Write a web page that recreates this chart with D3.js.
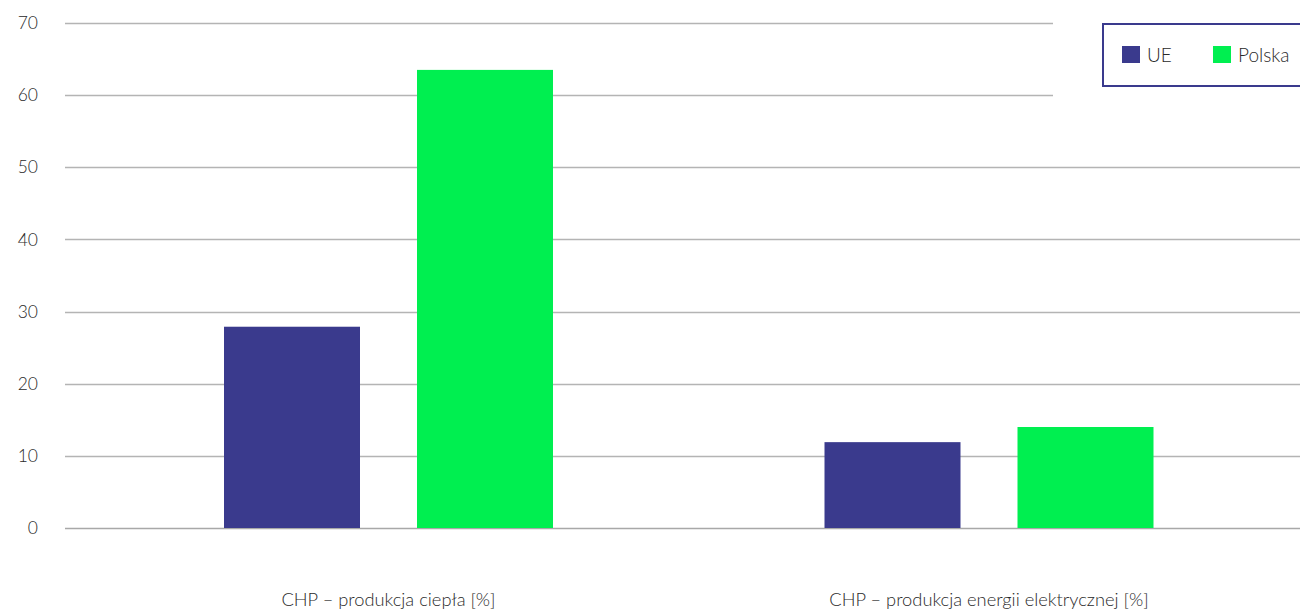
<!DOCTYPE html>
<html><head><meta charset="utf-8">
<script src="https://cdn.jsdelivr.net/npm/d3@7"></script>
<style>body{margin:0;background:#fff;}svg{display:block;font-family:Lato,"Open Sans",sans-serif;}</style>
</head><body>
<svg id="c" width="1300" height="610"></svg>
<script>
const categories = ["CHP – produkcja ciepła [%]", "CHP – produkcja energii elektrycznej [%]"];
const seriesNames = ["UE", "Polska"];
const ueValues = [27.9, 11.9];
const polskaValues = [63.5, 14.0];
const yTicks = [0, 10, 20, 30, 40, 50, 60, 70];
const colors = ["#3a3a8d", "#00ef50"];

const svg = d3.select("#c");
const y = d3.scaleLinear().domain([0, 70]).range([528, 23]);
const x0 = d3.scaleBand().domain(categories).range([88.25, 1289.25]);
const x1 = d3.scaleBand().domain(seriesNames).range([135.75, 464.75]).paddingInner(57/193);

// grid
svg.append("g").selectAll("line").data(yTicks).join("line")
  .attr("x1", 65).attr("x2", 1300)
  .attr("y1", d => Math.round(y(d)) + 0.5).attr("y2", d => Math.round(y(d)) + 0.5)
  .attr("stroke", d => d === 0 ? "#a8a8a8" : "#b4b4b4").attr("stroke-width", 1.3);

// y labels
const yAxis = d3.axisLeft(y).tickValues(yTicks).tickSize(0).tickPadding(0);
const ya = svg.append("g").attr("transform", "translate(38,0)").call(yAxis);
ya.select(".domain").remove();
ya.selectAll("text").attr("font-size", 17.5).attr("fill", "#2a2a2a").attr("font-family", "Lato, sans-serif").attr("font-weight", 300);

// bars
const data = categories.map((c, i) => ({cat: c, vals: [ueValues[i], polskaValues[i]]}));
const groups = svg.append("g").selectAll("g").data(data).join("g")
  .attr("transform", d => `translate(${x0(d.cat)},0)`);
groups.selectAll("rect").data(d => d.vals.map((v, j) => ({s: seriesNames[j], v, j}))).join("rect")
  .attr("x", d => x1(d.s)).attr("width", x1.bandwidth())
  .attr("y", d => y(d.v)).attr("height", d => y(0) - y(d.v))
  .attr("fill", d => colors[d.j]);

// x labels
const xAxis = d3.axisBottom(x0).tickSize(0).tickPadding(0);
const xa = svg.append("g").attr("transform", "translate(0,606)").call(xAxis);
xa.select(".domain").remove();
xa.selectAll("text").attr("dy", 0).attr("font-size", 18.3).attr("fill", "#2a2a2a").attr("font-family", "Lato, sans-serif").attr("font-weight", 300);

// legend
const lg = svg.append("g");
lg.append("rect").attr("x", 1053).attr("y", 12).attr("width", 260).attr("height", 90).attr("fill", "#fff");
lg.append("rect").attr("x", 1103).attr("y", 24).attr("width", 220).attr("height", 62)
  .attr("fill", "#fff").attr("stroke", "#3a3a8d").attr("stroke-width", 2);
const lx = [1122, 1213];
seriesNames.forEach((s, i) => {
  lg.append("rect").attr("x", lx[i]).attr("y", 46).attr("width", 18).attr("height", 17).attr("fill", colors[i]);
  lg.append("text").attr("x", lx[i] + 25).attr("y", 62).attr("font-size", 19).attr("fill", "#2a2a2a")
    .attr("font-weight", 300).text(s);
});
</script>
</body></html>
